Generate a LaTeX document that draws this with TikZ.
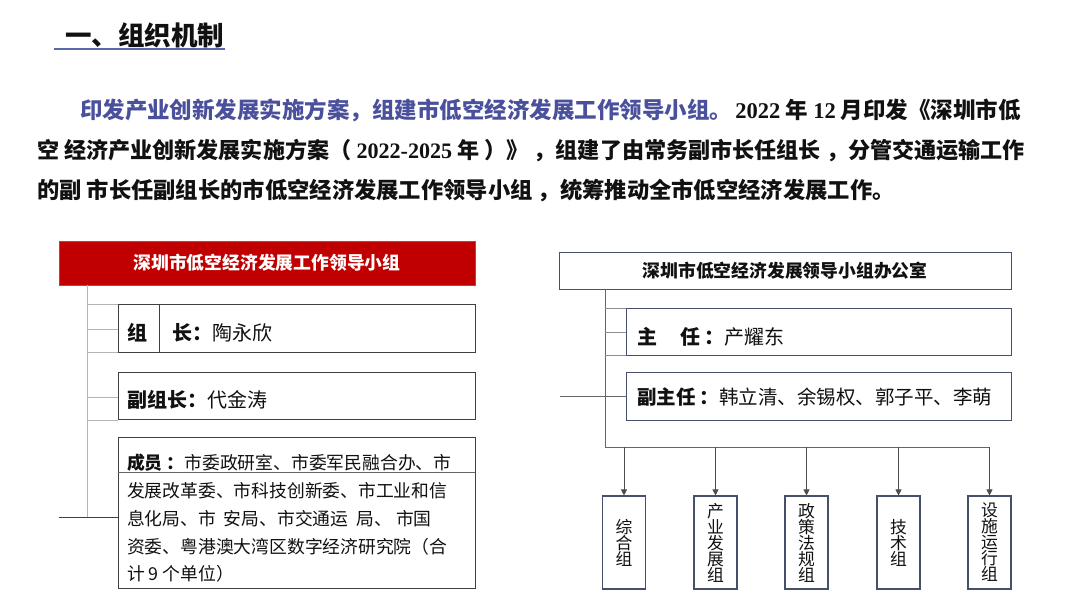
\documentclass[tikz,border=0pt]{standalone}
\usepackage{fontspec}
\setmainfont{Noto Sans CJK SC}
\newfontfamily\tnr{Liberation Serif}
\usetikzlibrary{arrows.meta}
\definecolor{hdred}{HTML}{C00000}
\definecolor{leadblue}{HTML}{4A509C}
\definecolor{ulblue}{HTML}{5A6AA8}
\definecolor{slate}{HTML}{46506A}
\definecolor{tablegray}{HTML}{B4B4B4}
\definecolor{txt}{HTML}{111111}
\tikzset{
  txtnode/.style={inner sep=0pt, outer sep=0pt, text=txt},
  leftbox/.style={draw=black!75, line width=0.9pt, inner sep=0pt, minimum width=357pt},
  rightbox/.style={draw=slate, line width=0.9pt, inner sep=0pt, minimum width=385pt},
  groupbox/.style={draw=slate, line width=1.1pt, inner sep=0pt, minimum width=43pt, minimum height=93pt,
     align=center, font=\fontsize{16.8}{16}\selectfont, text=txt},
  tline/.style={draw=tablegray, line width=0.9pt},
  conn/.style={draw=black!75, line width=0.9pt},
  arr/.style={draw=black!70, line width=0.9pt, -{Triangle[width=6pt,length=6pt]}},
}
\begin{document}
\begin{tikzpicture}[x=1pt,y=-1pt]
\useasboundingbox (0,0) rectangle (1080,608);
\fill[white] (0,0) rectangle (1080,608);

% title
\node[txtnode, anchor=base west] (title) at (65,45) {\fontsize{26.5}{30}\selectfont\bfseries 一、组织机制};
\coordinate (ulA) at (54,49);
\coordinate (ulB) at (225,49);
\draw[ulblue, line width=1.2pt] (ulA) -- (ulB);

% paragraph
\node[txtnode, anchor=base west] (p1) at (80,118) {\fontsize{22.5}{26}\selectfont\bfseries
{\color{leadblue}印发产业创新发展实施方案，组建市低空经济发展工作领导小组。}\hspace{3pt}{\tnr 2022} 年 {\tnr 12} 月印发《深圳市低};
\node[txtnode, anchor=base west] (p2) at (37,158) {\fontsize{22.1}{26}\selectfont\bfseries
空 经济产业创新发展实施方案（ {\tnr 2022-2025} 年 ）》 ，组建了由常务副市长任组长 ，分管交通运输工作};
\node[txtnode, anchor=base west] (p3) at (37,198) {\fontsize{22.3}{26}\selectfont\bfseries
的副 市长任副组长的市低空经济发展工作领导小组 ，统筹推动全市低空经济发展工作。};

% ---------- left chart ----------
\node[fill=hdred, draw=black!60, line width=0.9pt, minimum width=416pt, minimum height=44pt, inner sep=0pt,
      text=white, font=\fontsize{17.8}{20}\selectfont\bfseries] (lead) at (267,263) {深圳市低空经济发展工作领导小组};

\node[leftbox, minimum height=48pt] (zz) at (296.5,328) {};
\node[leftbox, minimum height=47pt] (fz) at (296.5,395.5) {};
\node[leftbox, minimum height=151pt] (cy) at (296.5,512.5) {};

\coordinate (div1) at (159,304);
\coordinate (div2) at (159,352);
\draw[black!75, line width=0.9pt] (div1) -- (div2);
\coordinate (cyl) at (118,472);
\coordinate (cyr) at (475,472);
\draw[black!60, line width=0.8pt] (cyl) -- (cyr);

% table-like gray lines
\coordinate (lvTop) at (87,285);
\coordinate (lvBot) at (87,517);
\draw[tline] (lvTop) -- (lvBot);
\foreach \yy in {304,329,352,397,420} {
  \draw[tline] (87,\yy) -- (118,\yy);
}
\coordinate (lfree) at (59,517);
\draw[conn] (lfree) -- (cy.west |- lfree);

\node[txtnode, anchor=base west] (zzA) at (127,340.5) {\fontsize{20}{24}\selectfont\bfseries 组};
\node[txtnode, anchor=base west] (zzB) at (172,340.5) {\fontsize{20}{24}\selectfont{\bfseries 长：}陶永欣};
\node[txtnode, anchor=base west] (fzT) at (127,407.5) {\fontsize{20}{24}\selectfont{\bfseries 副组长：}代金涛};

\node[txtnode, anchor=base west] (m1) at (127,469.5) {\fontsize{17.8}{20}\selectfont{\bfseries 成员 ：}市委政研室、市委军民融合办、市};
\node[txtnode, anchor=base west] (m2) at (127,497.5) {\fontsize{17.8}{20}\selectfont 发展改革委、市科技创新委、市工业和信};
\node[txtnode, anchor=base west] (m3) at (127,525.5) {\fontsize{17.8}{20}\selectfont 息化局、市\hspace{8pt}安局、市交通运\hspace{8pt}局、 市国};
\node[txtnode, anchor=base west] (m4) at (127,553.5) {\fontsize{17.8}{20}\selectfont 资委、粤港澳大湾区数字经济研究院（合};
\node[txtnode, anchor=base west] (m5) at (127,580.5) {\fontsize{17.8}{20}\selectfont 计 9 个单位）};

% ---------- right chart ----------
\node[draw=slate, line width=0.9pt, minimum width=452pt, minimum height=37pt, inner sep=0pt,
      text=txt, font=\fontsize{17.8}{20}\selectfont\bfseries] (office) at (785,270.5) {深圳市低空经济发展领导小组办公室};
\node[rightbox, minimum height=47pt] (zr) at (818.5,331.5) {};
\node[rightbox, minimum height=48pt] (fzr) at (818.5,396) {};

\node[txtnode, anchor=base west] (zrT) at (637,344.5) {\fontsize{20}{24}\selectfont{\bfseries 主\hspace{23pt}任 ：}产耀东};
\node[txtnode, anchor=base west] (fzrT) at (637,404.5) {\fontsize{19.5}{24}\selectfont{\bfseries 副主任 ：}韩立清、余锡权、郭子平、李萌};

\coordinate (rvTop) at (605,289);
\coordinate (rvBot) at (605,447);
\draw[conn, black!60] (rvTop) -- (rvBot);
\foreach \yy in {308,332,355} {
  \draw[tline, draw=black!45] (605,\yy) -- (626,\yy);
}
\coordinate (rfree) at (560,396);
\draw[conn, black!60] (rfree) -- (fzr.west);

% group boxes
\node[groupbox] (g1) at (624,542.5) {综\\合\\组};
\node[groupbox] (g2) at (715.5,542.5) {产\\业\\发\\展\\组};
\node[groupbox] (g3) at (806.5,542.5) {政\\策\\法\\规\\组};
\node[groupbox] (g4) at (898.5,542.5) {技\\术\\组};
\node[groupbox] (g5) at (989.5,542.5) {设\\施\\运\\行\\组};

\coordinate (bus5) at (989.5,447);
\draw[conn, black!60] (rvBot) -- (bus5);
\foreach \g in {g1,g2,g3,g4,g5} {
  \draw[arr] (\g.north |- rvBot) -- (\g.north);
}
\end{tikzpicture}
\end{document}
